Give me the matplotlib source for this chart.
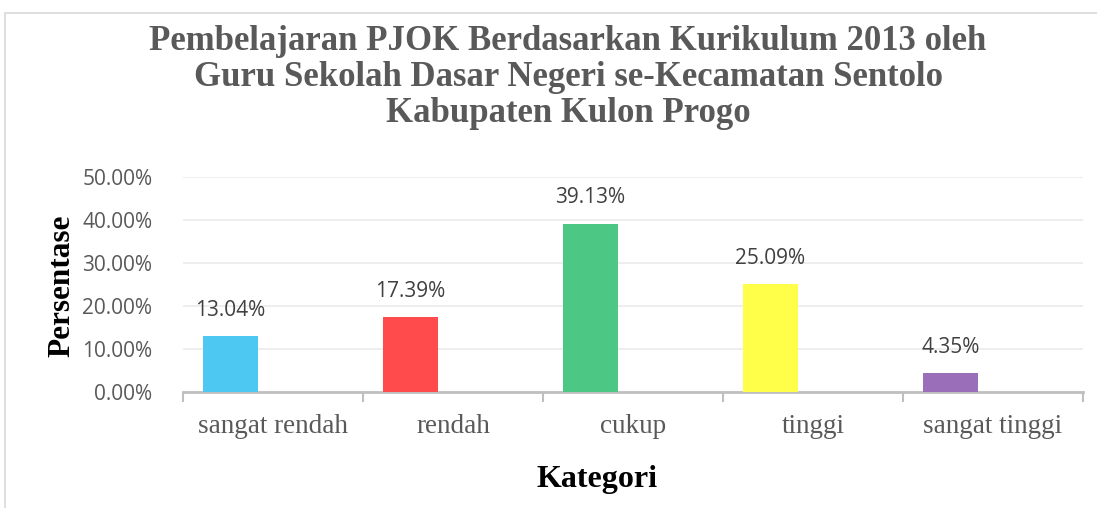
import matplotlib.pyplot as plt
from matplotlib.patches import Rectangle
from matplotlib.ticker import FuncFormatter, FixedLocator

# data
kategori = ['sangat rendah', 'rendah', 'cukup', 'tinggi', 'sangat tinggi']
persen = [13.04, 17.39, 39.13, 25.09, 4.35]
warna = ['#4DC8F3', '#FF4B4B', '#4CC784', '#FFFF4A', '#9B6EBA']

fig = plt.figure(figsize=(10.97, 5.08), dpi=100)
ax = fig.add_axes([183 / 1097, 1 - 392 / 508, 900 / 1097, 215 / 508])

# chart frame (light grey border like the spreadsheet chart area)
fig.patches.append(Rectangle((5 / 1097, -0.05), 1.2, 1 - 13 / 508 + 0.05,
                             transform=fig.transFigure, fill=False,
                             edgecolor='#D9D9D9', linewidth=1.2))

x = list(range(len(kategori)))
offset = -0.236
bars = ax.bar([i + offset for i in x], [p / 100 for p in persen],
              width=0.305, color=warna, zorder=3)

for b, p in zip(bars, persen):
    ax.annotate(f'{p:.2f}%', (b.get_x() + b.get_width() / 2, b.get_height()),
                xytext=(0, 11), textcoords='offset points', ha='center',
                va='bottom', fontsize=15, color='#404040', family='Open Sans')

ax.set_xlim(-0.5, 4.5)
ax.set_ylim(0, 0.5)
ax.set_yticks([0, 0.1, 0.2, 0.3, 0.4, 0.5])
ax.yaxis.set_major_formatter(FuncFormatter(lambda v, _: f'{v * 100:.2f}%'))
ax.tick_params(axis='y', length=0, pad=22, labelsize=15, labelcolor='#595959')
for t in ax.get_yticklabels():
    t.set_family('Open Sans')
ax.grid(axis='y', color='#EDEDED', linewidth=1.3, zorder=0)

ax.set_xticks(x)
ax.set_xticklabels(kategori, family='Liberation Serif', fontsize=19.5, color='#595959')
ax.tick_params(axis='x', which='major', length=0, pad=16)
ax.xaxis.set_minor_locator(FixedLocator([i - 0.5 for i in range(len(kategori) + 1)]))
ax.tick_params(axis='x', which='minor', length=7, width=1.5, color='#BFBFBF')

for s in ['top', 'right', 'left']:
    ax.spines[s].set_visible(False)
ax.spines['bottom'].set_color('#BFBFBF')
ax.spines['bottom'].set_linewidth(2)

judul = ['Pembelajaran PJOK Berdasarkan Kurikulum 2013 oleh',
         'Guru Sekolah Dasar Negeri se-Kecamatan Sentolo',
         'Kabupaten Kulon Progo']
for k, baris in enumerate(judul):
    fig.text(568 / 1097, 1 - (42 + k * 36) / 508, baris, ha='center', va='center',
             family='Liberation Serif', fontweight='bold', fontsize=25, color='#595959')

fig.text(62 / 1097, 1 - 286 / 508, 'Persentase', rotation=90, ha='center', va='center',
         family='Liberation Serif', fontweight='bold', fontsize=22.5, color='black')
fig.text(597 / 1097, 1 - 480 / 508, 'Kategori', ha='center', va='center',
         family='Liberation Serif', fontweight='bold', fontsize=23, color='black')

fig.savefig('out.png', dpi=100)
